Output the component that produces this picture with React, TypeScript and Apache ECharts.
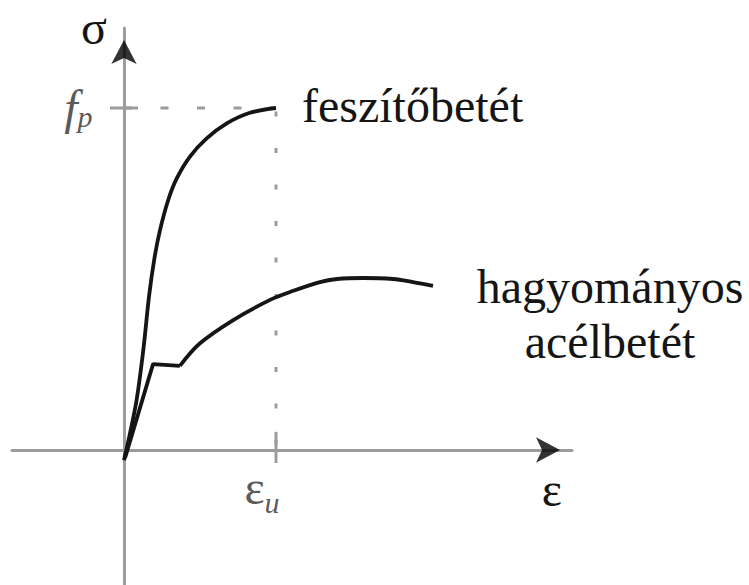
import React, { useEffect, useRef } from 'react';
import * as echarts from 'echarts';

const SERIF = 'Liberation Serif, Times New Roman, DejaVu Serif, serif';
const INK = '#151515';
const LABEL = '#2e2e2e';
const AXIS = '#9c9c9c';

// Strain is normalised by the ultimate strain εu, stress by the strength fp.
const EPS_U = 1;
const F_P = 1;

// Prestressing strand (feszítőbetét)
const strandStrain = [0, 0.04, 0.083, 0.127, 0.165, 0.2, 0.237, 0.291, 0.347, 0.434, 0.544, 0.676, 0.829, 1];
const strandStress = [-0.03, 0.05, 0.146, 0.292, 0.45, 0.56, 0.643, 0.731, 0.794, 0.858, 0.911, 0.955, 0.986, 1];

// Ordinary reinforcing steel (hagyományos acélbetét): elastic line, yield plateau, hardening
const steelStrain = [0.007, 0.191, 0.368, 0.5, 0.719, 0.961, 1.092, 1.289, 1.401, 1.572, 1.77, 1.901, 2.033];
const steelStress = [-0.023, 0.251, 0.246, 0.312, 0.38, 0.439, 0.462, 0.491, 0.5, 0.503, 0.5, 0.491, 0.48];
const steelPlateauEnd = 2; // hardening branch starts here and is drawn smooth

const strandName = 'feszítőbetét';
const steelName = 'hagyományos\nacélbetét';
const strainAxisName = 'ε';
const stressAxisName = 'σ';

// Axis extents (the axes cross at the origin)
const X_MIN = -0.7368;
const X_MAX = 2.9474;
const Y_MIN = -0.3947;
const Y_MAX = 1.2339;

// Half-lengths of the crossing tick marks, in axis units
const TICK_HALF_X = 0.092;
const TICK_UP_Y = 0.053;
const TICK_DOWN_Y = 0.038;

const pairs = (xs: number[], ys: number[]) => xs.map((x, i) => [x, ys[i]]);

const hidden = { color: 'rgba(0,0,0,0)' };

export default function App() {
  const ref = useRef<HTMLDivElement | null>(null);

  useEffect(() => {
    if (!ref.current) return;
    const chart = echarts.init(ref.current, undefined, { renderer: 'svg' });

    const steel = pairs(steelStrain, steelStress);
    const guide = { color: AXIS, width: 3 };
    const curve = { color: INK, width: 3.8 };

    const option: any = {
      animation: false,
      backgroundColor: '#ffffff',
      textStyle: { fontFamily: SERIF },
      grid: { left: 12, right: 177, top: 28, bottom: 0, containLabel: false, outerBoundsMode: 'none' },
      xAxis: {
        type: 'value', min: X_MIN, max: X_MAX,
        name: strainAxisName, nameLocation: 'end', nameGap: -10, nameMoveOverlap: false,
        nameTextStyle: {
          fontFamily: SERIF, fontSize: 48, color: INK,
          align: 'right', verticalAlign: 'top', padding: [15, 0, 0, 0],
        },
        axisLine: { onZero: true, lineStyle: { color: AXIS, width: 3 } },
        axisTick: { show: false }, axisLabel: { show: false }, splitLine: { show: false },
      },
      yAxis: {
        type: 'value', min: Y_MIN, max: Y_MAX,
        name: stressAxisName, nameLocation: 'end', nameGap: -14, nameMoveOverlap: false,
        nameTextStyle: {
          fontFamily: SERIF, fontSize: 48, lineHeight: 30, color: INK,
          align: 'right', verticalAlign: 'bottom', padding: [0, 17, 0, 0],
        },
        axisLine: { onZero: true, lineStyle: { color: AXIS, width: 3 } },
        axisTick: { show: false }, axisLabel: { show: false }, splitLine: { show: false },
      },
      series: [
        // fp level: crossing tick and dashed guide to the end of the strand curve
        { type: 'line', silent: true, showSymbol: false, z: 2, data: [[-TICK_HALF_X, F_P], [TICK_HALF_X, F_P]], lineStyle: guide },
        { type: 'line', silent: true, showSymbol: false, z: 2, data: [[0, F_P], [EPS_U, F_P]], lineStyle: { ...guide, type: [8, 28.5] } },
        // εu: dotted guide down to the strain axis and crossing tick
        { type: 'line', silent: true, showSymbol: false, z: 2, data: [[EPS_U, F_P], [EPS_U, 0]], lineStyle: { ...guide, type: [5, 31.5], dashOffset: 33 } },
        { type: 'line', silent: true, showSymbol: false, z: 2, data: [[EPS_U, TICK_UP_Y], [EPS_U, -TICK_DOWN_Y]], lineStyle: guide },
        // tick labels fp and εu
        {
          type: 'scatter', silent: true, clip: false, z: 3, data: [[0, F_P]], symbolSize: 1, itemStyle: hidden,
          label: {
            show: true, position: 'left', distance: 31, formatter: '{f|f}{p|p}',
            rich: {
              f: { fontFamily: SERIF, fontStyle: 'italic', fontSize: 48, lineHeight: 48, color: LABEL, verticalAlign: 'top' },
              p: { fontFamily: SERIF, fontStyle: 'italic', fontSize: 30, lineHeight: 30, color: LABEL, verticalAlign: 'top', padding: [18, 0, 0, 0] },
            },
          },
        },
        {
          type: 'scatter', silent: true, clip: false, z: 3, data: [[EPS_U, 0]], symbolSize: 1, itemStyle: hidden,
          label: {
            show: true, position: 'bottom', distance: 13, padding: [0, 28, 0, 0], formatter: '{e|ε}{u|u}',
            rich: {
              e: { fontFamily: SERIF, fontSize: 48, lineHeight: 48, color: LABEL, verticalAlign: 'top' },
              u: { fontFamily: SERIF, fontStyle: 'italic', fontSize: 30, lineHeight: 30, color: LABEL, verticalAlign: 'top', padding: [24, 0, 0, 0] },
            },
          },
        },
        // stress–strain curves
        {
          type: 'line', name: strandName, smooth: 0.35, showSymbol: false, z: 5, data: pairs(strandStrain, strandStress), lineStyle: curve,
          endLabel: { show: true, formatter: '{a}', fontFamily: SERIF, fontSize: 48, color: INK, offset: [18, -2] },
        },
        { type: 'line', name: steelName, showSymbol: false, z: 5, data: steel.slice(0, steelPlateauEnd + 1), lineStyle: curve },
        {
          type: 'line', name: steelName, smooth: 0.35, showSymbol: false, z: 5, data: steel.slice(steelPlateauEnd), lineStyle: curve,
          endLabel: {
            show: true, formatter: '{a}', fontFamily: SERIF, fontSize: 48, lineHeight: 55,
            color: INK, align: 'center', offset: [169, 28.5],
          },
        },
        // arrow heads at the axis ends
        {
          type: 'scatter', silent: true, clip: false, z: 6, data: [[X_MAX, 0]],
          symbol: 'arrow', symbolSize: [19, 24], symbolRotate: -90, symbolOffset: [-12, 0], itemStyle: { color: '#000000' },
        },
        {
          type: 'scatter', silent: true, clip: false, z: 6, data: [[0, Y_MAX]],
          symbol: 'arrow', symbolSize: [19, 24], symbolOffset: [0, 12], itemStyle: { color: '#000000' },
        },
      ],
    };

    chart.setOption(option);
    return () => chart.dispose();
  }, []);

  return (
    <div
      ref={ref}
      style={{ position: 'absolute', left: 0, top: 0, width: 749, height: 585, background: '#fff' }}
    />
  );
}
